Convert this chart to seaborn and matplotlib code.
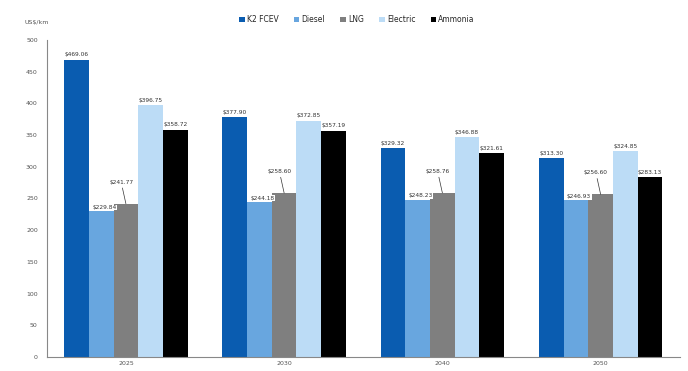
import matplotlib
matplotlib.use("Agg")
import matplotlib.pyplot as plt
import seaborn as sns
import pandas as pd

years = ["2025", "2030", "2040", "2050"]
fuels = ["K2 FCEV", "Diesel", "LNG", "Electric", "Ammonia"]
k2_fcev = [469.06, 377.90, 329.32, 313.30]
diesel = [229.84, 244.18, 248.23, 246.93]
lng = [241.77, 258.60, 258.76, 256.60]
electric = [396.75, 372.85, 346.88, 324.85]
ammonia = [358.72, 357.19, 321.61, 283.13]
colors = ["#0a5cb0", "#68a6df", "#7f7f7f", "#bcdcf6", "#000000"]

series = [k2_fcev, diesel, lng, electric, ammonia]
rows = []
for f, vals in zip(fuels, series):
    for y, v in zip(years, vals):
        rows.append({"year": y, "fuel": f, "value": v})
df = pd.DataFrame(rows)

sns.set_style("white")
plt.rcParams['font.family'] = ['DejaVu Sans']

fig = plt.figure(figsize=(6.88, 3.71), dpi=100)
ax = fig.add_axes([0.068, 0.038, 0.92, 0.854])
sns.barplot(data=df, x="year", y="value", hue="fuel", palette=colors,
            hue_order=fuels, order=years, width=0.78, saturation=1,
            edgecolor="none", ax=ax)

ax.set_ylim(0, 500)
ax.set_yticks(range(0, 501, 50))
ax.set_xlabel("")
ax.set_ylabel("")
ax.tick_params(axis="y", labelsize=4.5, colors="#555555", length=3, width=0.6, direction="out")
ax.tick_params(axis="x", labelsize=4.5, colors="#555555", length=0, pad=3)
for s in ["top", "right"]:
    ax.spines[s].set_visible(False)
ax.spines["left"].set_color("#888888")
ax.spines["bottom"].set_color("#888888")
ax.spines["left"].set_linewidth(0.8)
ax.spines["bottom"].set_linewidth(0.8)
ax.set_xlim(-0.5, len(years) - 0.5)

fig.text(0.035, 0.94, "US$/km", fontsize=4.5, color="#555555", ha="left", va="center")

for ci, cont in enumerate(ax.containers):
    for bar in cont:
        h = bar.get_height()
        x = bar.get_x() + bar.get_width() / 2
        lbl = f"${h:.2f}"
        if ci == 2:
            ax.annotate(lbl, xy=(x, h), xytext=(x - 0.03, h + 30),
                        textcoords="data", ha="center", va="bottom",
                        fontsize=4.2, color="#333333",
                        arrowprops=dict(arrowstyle="-", color="#333333", lw=0.5,
                                        shrinkA=0, shrinkB=0))
        elif ci == 1:
            ax.text(x + 0.02, h + 2, lbl, ha="center", va="bottom",
                    fontsize=4.2, color="#333333",
                    bbox=dict(facecolor="white", edgecolor="none", pad=0.3))
        else:
            ax.text(x, h + 4, lbl, ha="center", va="bottom",
                    fontsize=4.2, color="#333333")

handles, labels = ax.get_legend_handles_labels()
ax.legend(handles, labels, loc="center", bbox_to_anchor=(0.49, 1.065),
          ncol=5, frameon=False, fontsize=5.5, handlelength=0.7,
          handleheight=0.7, handletextpad=0.3, columnspacing=2.0)

fig.savefig("out.png", dpi=100)
